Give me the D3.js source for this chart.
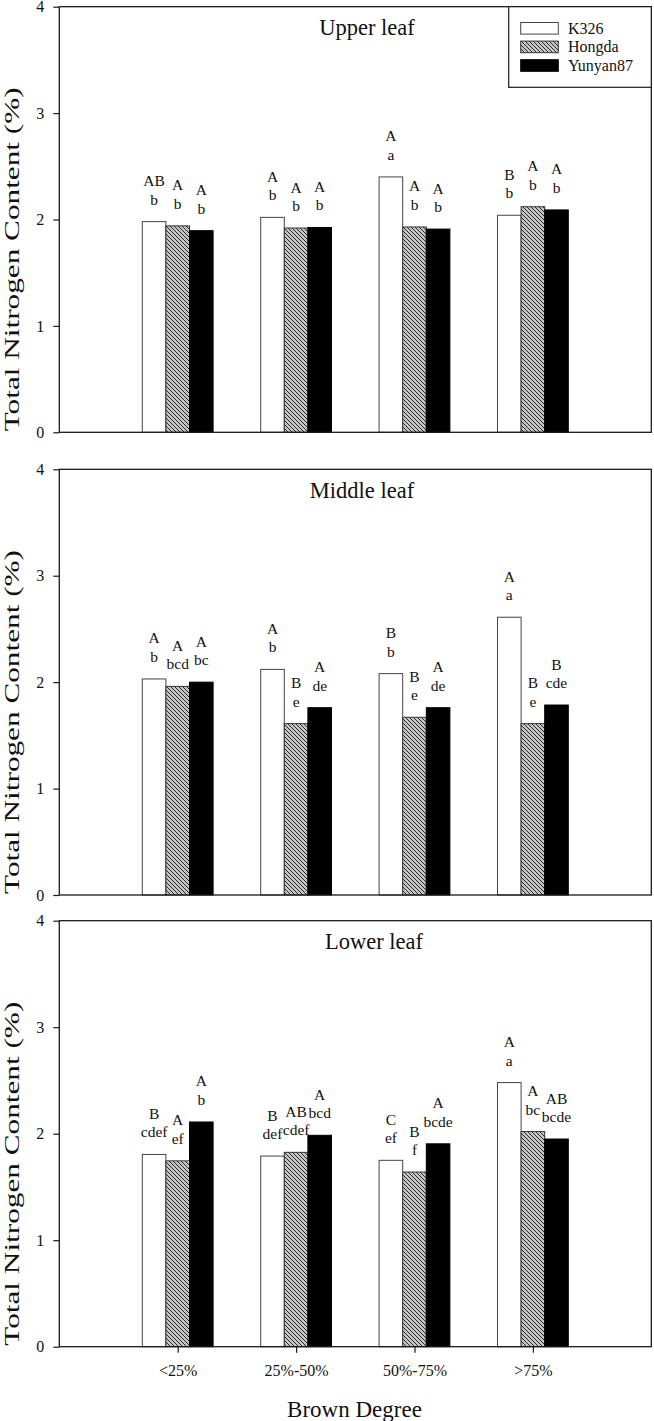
<!DOCTYPE html>
<html><head><meta charset="utf-8">
<script src="https://cdn.jsdelivr.net/npm/d3@7"></script>
<style>
body{margin:0;background:#fff}
svg{display:block}
text{font-family:"Liberation Serif","Times New Roman",serif;fill:#111}
</style>
</head><body>
<svg id="chart" width="654" height="1421"></svg>
<script>
// ---------- data ----------
const categories = ["<25%", "25%-50%", "50%-75%", ">75%"];
const cultivars = ["K326", "Hongda", "Yunyan87"];
const panelTitles = ["Upper leaf", "Middle leaf", "Lower leaf"];
const yTickValues = [0, 1, 2, 3, 4];
const xAxisTitle = "Brown Degree";
const yAxisTitle = "Total Nitrogen Content (%)";

const upperK326     = [1.98, 2.02, 2.40, 2.04];
const upperHongda   = [1.94, 1.92, 1.93, 2.12];
const upperYunyan87 = [1.895, 1.925, 1.91, 2.09];

const middleK326     = [2.03, 2.12, 2.08, 2.61];
const middleHongda   = [1.96, 1.61, 1.67, 1.61];
const middleYunyan87 = [2.00, 1.76, 1.76, 1.785];

const lowerK326     = [1.805, 1.79, 1.75, 2.48];
const lowerHongda   = [1.745, 1.825, 1.64, 2.02];
const lowerYunyan87 = [2.11, 1.985, 1.905, 1.95];

// significance letters: [category][cultivar] -> "Upper\nlower"
const upperLetters = [
  ["AB\nb", "A\nb", "A\nb"],
  ["A\nb", "A\nb", "A\nb"],
  ["A\na", "A\nb", "A\nb"],
  ["B\nb", "A\nb", "A\nb"]
];
const middleLetters = [
  ["A\nb", "A\nbcd", "A\nbc"],
  ["A\nb", "B\ne", "A\nde"],
  ["B\nb", "B\ne", "A\nde"],
  ["A\na", "B\ne", "B\ncde"]
];
const lowerLetters = [
  ["B\ncdef", "A\nef", "A\nb"],
  ["B\ndef", "AB\ncdef", "A\nbcd"],
  ["C\nef", "B\nf", "A\nbcde"],
  ["A\na", "A\nbc", "AB\nbcde"]
];

const panelSeries = [
  [upperK326, upperHongda, upperYunyan87],
  [middleK326, middleHongda, middleYunyan87],
  [lowerK326, lowerHongda, lowerYunyan87]
];
const panelLetters = [upperLetters, middleLetters, lowerLetters];

// ---------- layout ----------
const plotLeft = 59.3, plotRight = 651.3;
const panelBox = [[6.7, 432.3], [469.3, 895], [920.7, 1346.7]];
const titleX = [367, 362, 374];
const barW = 23.6;

const svg = d3.select("#chart");
const defs = svg.append("defs");
const pat = defs.append("pattern").attr("id", "hatch")
  .attr("patternUnits", "userSpaceOnUse").attr("width", 4).attr("height", 4);
pat.append("rect").attr("width", 4).attr("height", 4).attr("fill", "#c4c4c4");
pat.append("path").attr("d", "M0,0L4,4M-1,3L1,5M3,-1L5,1")
  .attr("stroke", "#1a1a1a").attr("stroke-width", 0.9);

const fills = ["#ffffff", "url(#hatch)", "#000000"];
const strokes = ["#444", "#333", "#000"];

const x = d3.scaleLinear().domain([0, 5]).range([plotLeft, plotRight]);

panelBox.forEach((box, p) => {
  const [top, bottom] = box;
  const y = d3.scaleLinear().domain([0, 4]).range([bottom, top]);
  const g = svg.append("g");

  // bars
  const series = panelSeries[p];
  series.forEach((vals, s) => {
    g.selectAll(null).data(vals).join("rect")
      .attr("x", (d, i) => x(i + 1) + (s - 1.5) * barW)
      .attr("y", d => y(d))
      .attr("width", barW)
      .attr("height", d => y(0) - y(d))
      .attr("fill", fills[s])
      .attr("stroke", strokes[s])
      .attr("stroke-width", 1);
  });

  // letters
  const letters = panelLetters[p];
  letters.forEach((row, i) => {
    row.forEach((lab, s) => {
      const lines = lab.split("\n");
      const cx = x(i + 1) + (s - 1) * barW;
      const baseY = y(series[s][i]) - 17;
      const t = g.append("text").attr("text-anchor", "middle")
        .attr("font-size", 15.5);
      t.append("tspan").attr("x", cx).attr("y", baseY - 18.5).text(lines[0]);
      t.append("tspan").attr("x", cx).attr("y", baseY).text(lines[1]);
    });
  });

  // frame
  g.append("rect").attr("x", plotLeft).attr("y", top)
    .attr("width", plotRight - plotLeft).attr("height", bottom - top)
    .attr("fill", "none").attr("stroke", "#1a1a1a").attr("stroke-width", 1.3);

  // y axis
  const ya = g.append("g").attr("transform", `translate(${plotLeft},0)`)
    .call(d3.axisLeft(y).tickValues(yTickValues).tickFormat(d3.format("d"))
      .tickSize(6).tickPadding(9));
  ya.select(".domain").remove();
  ya.selectAll("line").attr("stroke", "#1a1a1a").attr("stroke-width", 1.2);
  ya.selectAll("text").attr("font-size", 16)
    .attr("font-family", '"Liberation Serif","Times New Roman",serif').attr("fill", "#111");

  // y title
  g.append("text")
    .attr("transform", `translate(19,${bottom - 1}) rotate(-90)`)
    .attr("text-anchor", "start")
    .attr("font-size", 22)
    .attr("textLength", 344).attr("lengthAdjust", "spacingAndGlyphs")
    .text(yAxisTitle);

  // panel title
  g.append("text").attr("x", titleX[p]).attr("y", top + 28.5)
    .attr("text-anchor", "middle").attr("font-size", 22.5).text(panelTitles[p]);

  // x axis on last panel
  if (p === panelBox.length - 1) {
    const xa = g.append("g").attr("transform", `translate(0,${bottom})`)
      .call(d3.axisBottom(x).tickValues([1, 2, 3, 4])
        .tickFormat(d => categories[d - 1]).tickSize(6).tickPadding(12));
    xa.select(".domain").remove();
    xa.selectAll("line").attr("stroke", "#1a1a1a").attr("stroke-width", 1.2);
    xa.selectAll("text").attr("font-size", 16)
      .attr("font-family", '"Liberation Serif","Times New Roman",serif').attr("fill", "#111");
    g.append("text").attr("x", 354.5).attr("y", 1416.5)
      .attr("text-anchor", "middle").attr("font-size", 23).text(xAxisTitle);
  }

  // legend in first panel
  if (p === 0) {
    const lg = g.append("g");
    lg.append("rect").attr("x", 508.7).attr("y", top)
      .attr("width", plotRight - 508.7).attr("height", 87.3 - top)
      .attr("fill", "#fff").attr("stroke", "#1a1a1a").attr("stroke-width", 1.2);
    cultivars.forEach((c, s) => {
      const cy = 28.3 + s * 18.6;
      lg.append("rect").attr("x", 520.7).attr("y", cy - 5.8)
        .attr("width", 37.6).attr("height", 11.6)
        .attr("fill", fills[s]).attr("stroke", strokes[s]).attr("stroke-width", 1);
      lg.append("text").attr("x", 568).attr("y", cy + 5.3)
        .attr("font-size", 16).text(c);
    });
  }
});
</script>
</body></html>
